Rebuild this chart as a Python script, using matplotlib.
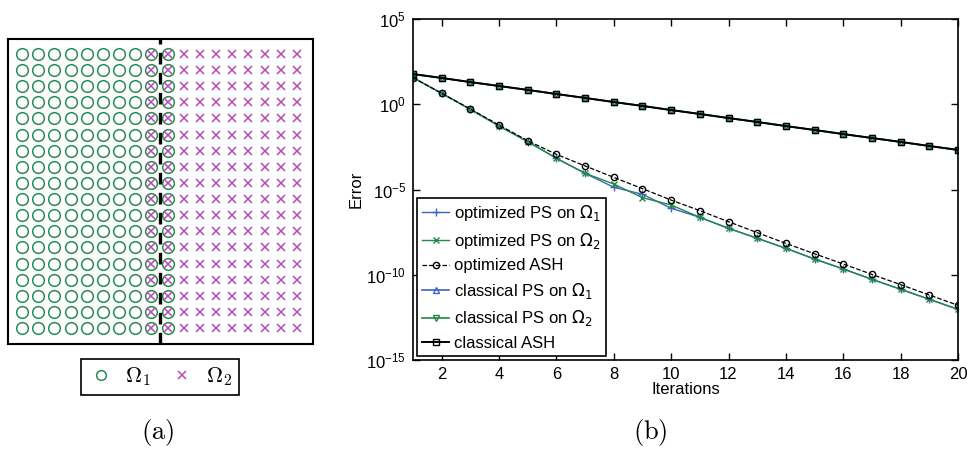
import numpy as np
import matplotlib
matplotlib.use("Agg")
import matplotlib.pyplot as plt
from matplotlib.lines import Line2D
from matplotlib.font_manager import FontProperties

plt.rcParams['font.family'] = ['Liberation Sans', 'DejaVu Sans']
plt.rcParams['mathtext.fontset'] = 'dejavusans'

# ---------------- data ----------------
# panel (a): grid of nodes
grid_cols = list(range(1, 19))
grid_rows = list(range(1, 19))
omega1_cols = list(range(1, 11))
omega2_cols = list(range(9, 19))
interface_x = 9.5

# panel (b): convergence history
iterations = list(range(1, 21))
opt_ps_1 = [36.3, 4.37, 0.501, 0.0525, 6.46e-3, 6.76e-4, 8.91e-5, 1.35e-5, 5.25e-6, 7.94e-7,
            2.34e-7, 5.25e-8, 1.38e-8, 3.55e-9, 8.32e-10, 2.19e-10, 5.37e-11, 1.41e-11, 3.63e-12, 9.33e-13]
opt_ps_2 = [36.3, 4.37, 0.501, 0.0525, 6.46e-3, 6.76e-4, 8.91e-5, 2.09e-5, 3.31e-6, 1.23e-6,
            2.34e-7, 5.25e-8, 1.38e-8, 3.55e-9, 8.32e-10, 2.19e-10, 5.37e-11, 1.41e-11, 3.63e-12, 9.33e-13]
opt_ash = [36.3, 4.37, 0.525, 0.0603, 7.24e-3, 1.15e-3, 2.40e-4, 5.13e-5, 1.12e-5, 2.40e-6,
           5.75e-7, 1.29e-7, 2.95e-8, 6.92e-9, 1.70e-9, 4.27e-10, 1.05e-10, 2.63e-11, 6.46e-12, 1.62e-12]
cls_ps_1 = [58.9, 34.7, 19.95, 11.75, 6.92, 3.98, 2.34, 1.35, 0.794, 0.457,
            0.269, 0.155, 0.0912, 0.0525, 0.0309, 0.0178, 0.01047, 6.17e-3, 3.55e-3, 2.09e-3]
cls_ps_2 = [58.9, 34.7, 19.95, 11.75, 6.92, 3.98, 2.34, 1.35, 0.794, 0.457,
            0.269, 0.155, 0.0912, 0.0525, 0.0309, 0.0178, 0.01047, 6.17e-3, 3.55e-3, 2.09e-3]
cls_ash = [58.9, 34.7, 19.95, 11.75, 6.92, 3.98, 2.34, 1.35, 0.794, 0.457,
           0.269, 0.155, 0.0912, 0.0525, 0.0309, 0.0178, 0.01047, 6.17e-3, 3.55e-3, 2.09e-3]

GREEN_A = '#2a8a55'
MAG = '#b44ab4'
BLUE = '#4262c4'
GREEN = '#1f8a45'

fig = plt.figure(figsize=(9.67, 4.5), dpi=100)

# ---------------- panel (a) ----------------
axa = fig.add_axes([8/967, (450-344)/450, 305/967, 305/450])
X1, Y1 = np.meshgrid(omega1_cols, grid_rows)
X2, Y2 = np.meshgrid(omega2_cols, grid_rows)
axa.plot(X1.ravel(), Y1.ravel(), 'o', ls='none', mfc='none', mec=GREEN_A, ms=8.4, mew=1.1)
axa.plot(X2.ravel(), Y2.ravel(), 'x', ls='none', color=MAG, ms=6.0, mew=1.1)
axa.axvline(interface_x, color='black', ls=(0, (3.5, 2.5)), lw=2.4)
axa.set_xlim(0.13, 18.99)
axa.set_ylim(0.01, 18.93)
axa.set_xticks([])
axa.set_yticks([])
for s in axa.spines.values():
    s.set_linewidth(1.5)

hA = [Line2D([], [], marker='o', ls='none', mfc='none', mec=GREEN_A, ms=7, mew=1.1),
      Line2D([], [], marker='x', ls='none', color=MAG, ms=6, mew=1.1)]
legA = fig.legend(hA, [r'$\mathbf{\Omega}_1$', r'$\mathbf{\Omega}_2$'], ncol=2,
                  loc='center', bbox_to_anchor=(160/967, (450-377)/450),
                  prop=FontProperties(size=16, math_fontfamily='cm'),
                  fancybox=False, edgecolor='black', framealpha=1,
                  handlelength=1.2, handletextpad=0.5, columnspacing=0.8,
                  borderpad=0.3)
legA.get_frame().set_linewidth(1.2)

fig.text(158/967, (450-432)/450, r'$\mathrm{(a)}$', ha='center', va='center',
         fontsize=19, math_fontfamily='cm')

# ---------------- panel (b) ----------------
axb = fig.add_axes([413/967, (450-360)/450, 545/967, 341/450])
ms = 4.5
axb.semilogy(iterations, opt_ps_1, '-', marker='+', color=BLUE, lw=1.0, ms=ms + 1,
             label=r'optimized PS on $\Omega_1$')
axb.semilogy(iterations, opt_ps_2, '-', marker='x', color=GREEN, lw=1.0, ms=ms,
             label=r'optimized PS on $\Omega_2$')
axb.semilogy(iterations, opt_ash, '--', marker='o', color='black', lw=0.9, ms=ms,
             mfc='none', label='optimized ASH')
axb.semilogy(iterations, cls_ps_1, '-', marker='^', color=BLUE, lw=1.2, ms=ms,
             mfc='none', label=r'classical PS on $\Omega_1$')
axb.semilogy(iterations, cls_ps_2, '-', marker='v', color=GREEN, lw=1.2, ms=ms,
             mfc='none', label=r'classical PS on $\Omega_2$')
axb.semilogy(iterations, cls_ash, '-', marker='s', color='black', lw=1.4, ms=ms,
             mfc='none', label='classical ASH')

axb.set_xlim(1, 20)
axb.set_ylim(1e-15, 1e5)
axb.set_xticks([2, 4, 6, 8, 10, 12, 14, 16, 18, 20])
axb.set_yticks([1e-15, 1e-10, 1e-5, 1e0, 1e5])
axb.minorticks_off()
axb.tick_params(direction='in', top=True, right=True, length=5, width=1.0,
                labelsize=12, pad=5)
for s in axb.spines.values():
    s.set_linewidth(1.2)
axb.set_xlabel('Iterations', fontsize=12, labelpad=0)
axb.set_ylabel('Error', fontsize=12, labelpad=2)

legB = axb.legend(loc='lower left', fontsize=12, fancybox=False, edgecolor='black',
                  framealpha=1, handlelength=1.6, handletextpad=0.3,
                  borderaxespad=0.25, borderpad=0.3, labelspacing=0.45)
legB.get_frame().set_linewidth(1.2)

fig.text(650/967, (450-432)/450, r'$\mathrm{(b)}$', ha='center', va='center',
         fontsize=19, math_fontfamily='cm')

fig.savefig('out.png', dpi=100)
